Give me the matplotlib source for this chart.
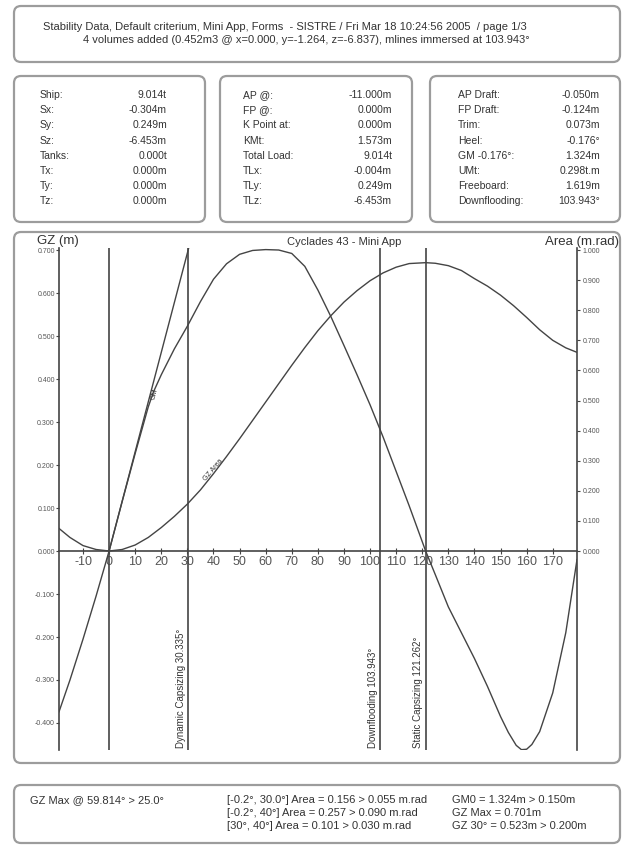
import matplotlib
matplotlib.use("Agg")
import matplotlib.pyplot as plt
from matplotlib.patches import FancyBboxPatch
import numpy as np

plt.rcParams['font.family'] = ['Liberation Sans', 'DejaVu Sans']

# --- data ---
gz_angles = [-19.2, -15, -10, -5, 0, 5, 10, 15, 17, 20, 25, 30, 35, 40, 45, 50, 55,
             60, 65, 70, 75, 80, 85, 90, 95, 100, 105, 110, 115, 121.3, 125, 130,
             135, 140, 145, 150, 153, 156, 158, 160, 162, 165, 170, 175, 179.3]
gz_values = [-0.374, -0.30, -0.205, -0.105, 0.0, 0.115, 0.227, 0.335, 0.37, 0.41,
             0.47, 0.523, 0.58, 0.632, 0.668, 0.69, 0.699, 0.701, 0.700, 0.692,
             0.662, 0.607, 0.545, 0.478, 0.41, 0.34, 0.265, 0.185, 0.105, 0.0,
             -0.055, -0.13, -0.19, -0.25, -0.315, -0.385, -0.422, -0.452, -0.462,
             -0.461, -0.45, -0.42, -0.33, -0.19, -0.02]

area_angles = [-19.2, -15, -10, -5, 0, 5, 10, 15, 20, 25, 30, 35, 40, 45, 50, 55,
               60, 65, 70, 75, 80, 85, 90, 95, 100, 105, 110, 115, 121.3, 125, 130,
               135, 140, 145, 150, 155, 160, 165, 170, 175, 179.3]
area_values = [0.075, 0.045, 0.018, 0.005, 0.0, 0.005, 0.02, 0.045, 0.078, 0.115,
               0.156, 0.203, 0.257, 0.314, 0.373, 0.434, 0.495, 0.556, 0.617, 0.676,
               0.732, 0.782, 0.827, 0.865, 0.898, 0.924, 0.943, 0.955, 0.958, 0.956,
               0.948, 0.932, 0.905, 0.88, 0.85, 0.815, 0.776, 0.735, 0.70, 0.675, 0.66]

gm_angles = [0, 57.3]
gm_values = [0, 1.324]

crit_angles = [30.335, 103.943, 121.262]
crit_labels = ["Dynamic Capsizing 30.335°", "Downflooding 103.943°",
               "Static Capsizing 121.262°"]

header_lines = [
    "Stability Data, Default criterium, Mini App, Forms  - SISTRE / Fri Mar 18 10:24:56 2005  / page 1/3",
    "4 volumes added (0.452m3 @ x=0.000, y=-1.264, z=-6.837), mlines immersed at 103.943°",
]
box1_labels = ["Ship:", "Sx:", "Sy:", "Sz:", "Tanks:", "Tx:", "Ty:", "Tz:"]
box1_values = ["9.014t", "-0.304m", "0.249m", "-6.453m", "0.000t", "0.000m", "0.000m", "0.000m"]
box2_labels = ["AP @:", "FP @:", "K Point at:", "KMt:", "Total Load:", "TLx:", "TLy:", "TLz:"]
box2_values = ["-11.000m", "0.000m", "0.000m", "1.573m", "9.014t", "-0.004m", "0.249m", "-6.453m"]
box3_labels = ["AP Draft:", "FP Draft:", "Trim:", "Heel:", "GM -0.176°:", "UMt:", "Freeboard:", "Downflooding:"]
box3_values = ["-0.050m", "-0.124m", "0.073m", "-0.176°", "1.324m", "0.298t.m", "1.619m", "103.943°"]

footer_left = ["GZ Max @ 59.814° > 25.0°"]
footer_mid = ["[-0.2°, 30.0°] Area = 0.156 > 0.055 m.rad",
              "[-0.2°, 40°] Area = 0.257 > 0.090 m.rad",
              "[30°, 40°] Area = 0.101 > 0.030 m.rad"]
footer_right = ["GM0 = 1.324m > 0.150m", "GZ Max = 0.701m", "GZ 30° = 0.523m > 0.200m"]

gz_ticks = np.round(np.arange(-0.4, 0.71, 0.1), 1)
area_ticks = np.round(np.arange(0.0, 1.01, 0.1), 1)
x_ticks = list(range(-10, 171, 10))

W, H = 631, 847
ink = "#333333"
line_col = "#444444"
edge = "#9c9c9c"

fig = plt.figure(figsize=(W / 100, H / 100), dpi=100)
fig.patch.set_facecolor("white")

# overlay in pixel coordinates for boxes and page text
page = fig.add_axes([0, 0, 1, 1], zorder=0)
page.set_xlim(0, W)
page.set_ylim(H, 0)
page.axis("off")


def box(x0, y0, x1, y1):
    page.add_patch(FancyBboxPatch((x0, y0), x1 - x0, y1 - y0,
                                  boxstyle="round,pad=0,rounding_size=7",
                                  fc="white", ec=edge, lw=1.6))


box(14, 6, 620, 62)
box(14, 76, 205, 222)
box(220, 76, 412, 222)
box(430, 76, 620, 222)
box(14, 232, 620, 763)
box(14, 785, 620, 843)

page.text(43, 27, header_lines[0], ha="left", va="center", fontsize=8, color=ink)
page.text(83, 40, header_lines[1], ha="left", va="center", fontsize=8, color=ink)

row_y = [95 + 15.2 * i for i in range(8)]
for labels, values, xl, xr in [(box1_labels, box1_values, 40, 167),
                               (box2_labels, box2_values, 243, 392),
                               (box3_labels, box3_values, 458, 600)]:
    for y, lab, val in zip(row_y, labels, values):
        page.text(xl, y, lab, ha="left", va="center", fontsize=7.5, color=ink)
        page.text(xr, y, val, ha="right", va="center", fontsize=7.5, color=ink)

foot_y = [800, 813, 826]
for y, s in zip(foot_y, footer_left):
    page.text(30, y, s, ha="left", va="center", fontsize=8, color=ink)
for y, s in zip(foot_y, footer_mid):
    page.text(227, y, s, ha="left", va="center", fontsize=8, color=ink)
for y, s in zip(foot_y, footer_right):
    page.text(452, y, s, ha="left", va="center", fontsize=8, color=ink)

page.text(37, 241, "GZ (m)", ha="left", va="center", fontsize=9.5, color=ink)
page.text(344, 242, "Cyclades 43 - Mini App", ha="center", va="center", fontsize=8, color=ink)
page.text(619, 242, "Area (m.rad)", ha="right", va="center", fontsize=9.5, color=ink)

# --- stability curve axes ---
ax = fig.add_axes([59 / W, 1 - 750 / H, 518 / W, 502 / H], zorder=1)
ax.patch.set_alpha(0)
ax.set_xlim(-19.2, 179.3)
ax.set_ylim(-0.4628, 0.7047)

ax.plot(gz_angles, gz_values, color=line_col, lw=1.0)
ax.plot(gm_angles, gm_values, color=line_col, lw=1.0)

ax.axvline(0, color=line_col, lw=1.2)
for a, lab in zip(crit_angles, crit_labels):
    ax.axvline(a, color=line_col, lw=1.2)
    ax.text(a - 0.8, -0.458, lab, rotation=90, ha="right", va="bottom",
            fontsize=7, color=ink)

ax.text(17.5, 0.365, "GM", rotation=75, ha="center", va="center", fontsize=5, color=ink)

for s in ["top", "right"]:
    ax.spines[s].set_visible(False)
ax.spines["left"].set_color(line_col)
ax.spines["left"].set_linewidth(1.2)
ax.spines["bottom"].set_position(("data", 0))
ax.spines["bottom"].set_color(line_col)
ax.spines["bottom"].set_linewidth(1.2)

ax.set_xticks(x_ticks)
ax.set_xticklabels([str(t) for t in x_ticks])
ax.tick_params(axis="x", direction="inout", length=5, width=0.8, colors=line_col,
               labelsize=9, labelcolor="#555555", pad=1)
ax.set_yticks(gz_ticks)
ax.set_yticklabels([f"{abs(t) if t == 0 else t:.3f}" for t in gz_ticks])
ax.tick_params(axis="y", direction="out", length=2, width=0.8, colors=line_col,
               labelsize=5, labelcolor="#555555", pad=1)

ax2 = ax.twinx()
ax2.set_ylim(-0.4628 / 0.7, 0.7047 / 0.7)
ax2.plot(area_angles, area_values, color=line_col, lw=1.0)
ax2.text(40, 0.27, "GZ Area", rotation=50, ha="center", va="center", fontsize=5, color=ink)
for s in ["top", "bottom", "left"]:
    ax2.spines[s].set_visible(False)
ax2.spines["right"].set_color(line_col)
ax2.spines["right"].set_linewidth(1.2)
ax2.set_yticks(area_ticks)
ax2.set_yticklabels([f"{t:.3f}" for t in area_ticks])
ax2.tick_params(axis="y", direction="out", length=2, width=0.8, colors=line_col,
                labelsize=5, labelcolor="#555555", pad=2)

fig.savefig("out.png", dpi=100, facecolor="white")
